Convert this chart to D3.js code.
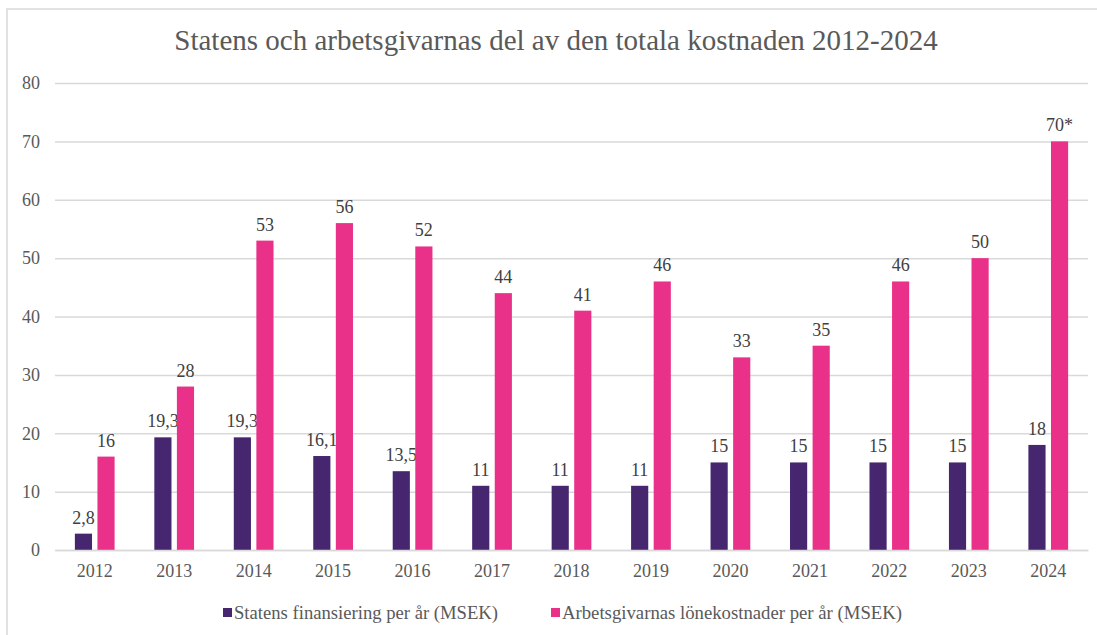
<!DOCTYPE html>
<html><head><meta charset="utf-8">
<script src="https://cdn.jsdelivr.net/npm/d3@7"></script>
<style>body{margin:0;background:#fff}svg{display:block}svg text{font-family:'Liberation Serif','Times New Roman',serif}</style>
</head><body>
<svg id="c" width="1097" height="635"></svg>
<script>
const years = ["2012","2013","2014","2015","2016","2017","2018","2019","2020","2021","2022","2023","2024"];
const statens = [2.8,19.3,19.3,16.1,13.5,11,11,11,15,15,15,15,18];
const arbetsgivare = [16,28,53,56,52,44,41,46,33,35,46,50,70];
const statensLabels = ["2,8","19,3","19,3","16,1","13,5","11","11","11","15","15","15","15","18"];
const arbetsLabels = ["16","28","53","56","52","44","41","46","33","35","46","50","70*"];
const seriesNames = ["Statens finansiering per år (MSEK)","Arbetsgivarnas lönekostnader per år (MSEK)"];
const yTicks = [0,10,20,30,40,50,60,70,80];
const title = "Statens och arbetsgivarnas del av den totala kostnaden 2012-2024";

(function(){
const colors = ["#46266F","#E9318A"];
const font = "'Liberation Serif','Times New Roman',serif";
const svg = d3.select("#c");

// frame
svg.append("rect").attr("x",7).attr("y",9).attr("width",1200).attr("height",700)
  .attr("fill","none").attr("stroke","#d9d9d9").attr("stroke-width",1.5);

const pl=55,pr=1088,pt=83,pb=550;
const x0 = d3.scaleBand().domain(years).range([pl,pr]).paddingInner(0.5).paddingOuter(0.25);
const x1 = d3.scaleBand().domain([0,1]).range([0,x0.bandwidth()]).paddingInner(0.24);
const y = d3.scaleLinear().domain([0,80]).range([pb,pt]);

// title
svg.append("text").attr("x",556).attr("y",50).attr("text-anchor","middle")
  .style("font-family",font).attr("font-size",29).attr("fill","#595959").text(title);

// grid
const yAxis = d3.axisLeft(y).tickValues(yTicks).tickSize(-(pr-pl)).tickPadding(15).tickFormat(d3.format("d"));
const gy = svg.append("g").attr("transform",`translate(${pl},0)`).call(yAxis);
gy.attr("font-family",null);
gy.select(".domain").remove();
gy.selectAll(".tick line").attr("stroke","#d9d9d9").attr("stroke-width",1.5);
gy.selectAll(".tick text").style("font-family",font).attr("font-size",18).attr("fill","#595959");

const series = [statens, arbetsgivare];
const labels = [statensLabels, arbetsLabels];
series.forEach((vals,si)=>{
  const g = svg.append("g");
  g.selectAll("rect").data(vals).join("rect")
    .attr("x",(d,i)=>x0(years[i])+x1(si))
    .attr("y",d=>y(d))
    .attr("width",x1.bandwidth())
    .attr("height",d=>y(0)-y(d))
    .attr("fill",colors[si]);
  g.selectAll("text").data(vals).join("text")
    .attr("x",(d,i)=>x0(years[i])+x1(si)+x1.bandwidth()/2)
    .attr("y",d=>y(d)-10)
    .attr("text-anchor","middle")
    .style("font-family",font).attr("font-size",18).attr("fill","#404040")
    .text((d,i)=>labels[si][i]);
});

// x axis
const xAxis = d3.axisBottom(x0).tickSize(0).tickPadding(14);
const gx = svg.append("g").attr("transform",`translate(0,${pb})`).call(xAxis);
gx.attr("font-family",null);
gx.select(".domain").attr("stroke","#d9d9d9").attr("stroke-width",1.5);
gx.selectAll(".tick text").style("font-family",font).attr("font-size",18).attr("fill","#595959");

// legend
const legX = [223, 551];
const legW = [264, 340];
seriesNames.forEach((n,i)=>{
  svg.append("rect").attr("x",legX[i]).attr("y",608).attr("width",9).attr("height",9).attr("fill",colors[i]);
  svg.append("text").attr("x",legX[i]+11).attr("y",619).style("font-family",font).attr("font-size",18)
    .attr("textLength",legW[i]).attr("lengthAdjust","spacingAndGlyphs")
    .attr("fill","#595959").text(n);
});
})();
</script>
</body></html>
